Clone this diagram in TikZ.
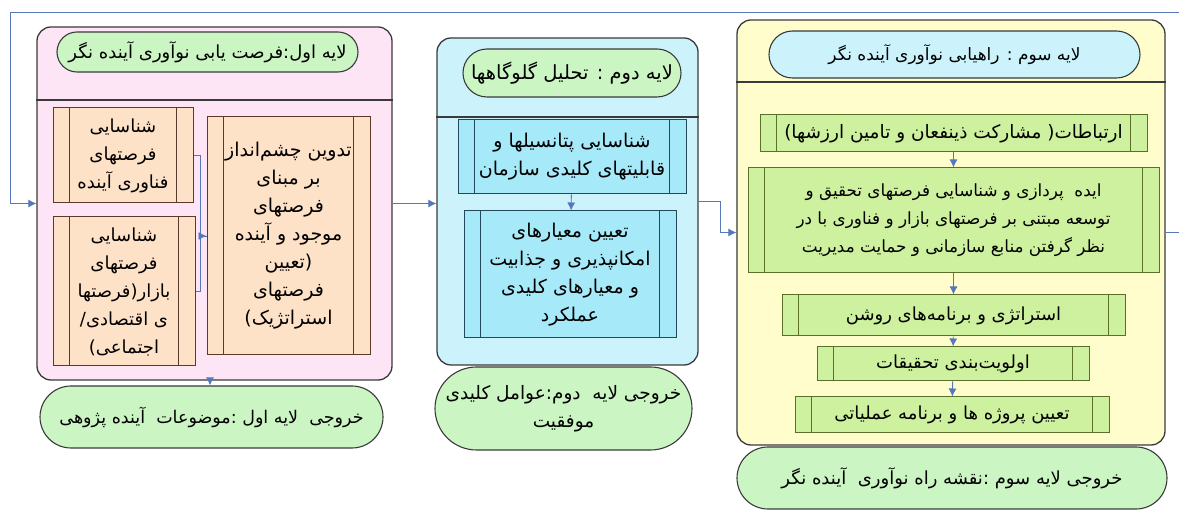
\documentclass[tikz,border=0pt]{standalone}
\usepackage{fontspec}
\newfontfamily\arabicfont[Script=Arabic]{DejaVu Sans}
\TeXXeTstate=1
\usetikzlibrary{shapes.misc,arrows.meta}
\newcommand{\rl}[1]{\beginR #1\endR}
\definecolor{layerpink}{HTML}{FDE5F6}
\definecolor{layerblue}{HTML}{CCF2FC}
\definecolor{layeryellow}{HTML}{FFFDCC}
\definecolor{pillgreen}{HTML}{CCF5C4}
\definecolor{pillcyan}{HTML}{CCF3FC}
\definecolor{peach}{HTML}{FDE2C8}
\definecolor{cyanbox}{HTML}{A6E9F8}
\definecolor{greenbox}{HTML}{CDF19E}
\definecolor{connblue}{HTML}{5578BC}
\definecolor{edgegrey}{HTML}{3A3A3A}
\definecolor{brownedge}{HTML}{5A3A2A}
\definecolor{tealedge}{HTML}{24485A}
\definecolor{oliveedge}{HTML}{5A7028}
\tikzset{
  fsz/.style={font=\arabicfont\fontsize{#1}{28}\selectfont},
  layerbox/.style={draw=edgegrey, line width=1.3pt, rounded corners=14pt, inner sep=0pt},
  divider/.style={draw=edgegrey, line width=1.2pt},
  pill/.style={rounded rectangle, draw=edgegrey, line width=1.1pt, inner sep=0pt, align=center},
  procbox/.style={rectangle, line width=1pt, inner sep=0pt, align=center,
     path picture={
       \draw[line width=1pt] ([xshift=16.5pt]path picture bounding box.north west) -- ([xshift=16.5pt]path picture bounding box.south west);
       \draw[line width=1pt] ([xshift=-16.5pt]path picture bounding box.north east) -- ([xshift=-16.5pt]path picture bounding box.south east);
     }},
  peachbox/.style={procbox, draw=brownedge, fill=peach},
  cybox/.style={procbox, draw=tealedge, fill=cyanbox},
  grbox/.style={procbox, draw=oliveedge, fill=greenbox},
  conn/.style={draw=connblue, line width=0.9pt},
  arr/.style={conn, -{Latex[length=8pt,width=8pt]}},
}
\begin{document}
\begin{tikzpicture}[x=1pt,y=-1pt]
\useasboundingbox[fill=white] (0,0) rectangle (1179,510);

% ---------- Layer 1 ----------
\node[layerbox, fill=layerpink, minimum width=355, minimum height=353] (L1) at (214.5,203.5) {};
\draw[divider] (L1.west |- 0,100) -- (L1.east |- 0,100);
\node[pill, fill=pillgreen, fsz=18, minimum width=301, minimum height=40] (T1) at (207.5,52) {\rl{لایه اول:فرصت یابی نوآوری آینده نگر}};
\node[peachbox, fsz=18, minimum width=140, minimum height=95] (A) at (123,155.5) {\rl{شناسایی}\\\rl{فرصتهای}\\\rl{فناوری آینده}};
\node[peachbox, fsz=18, minimum width=142, minimum height=149] (B) at (124,291.5) {\rl{شناسایی}\\\rl{فرصتهای}\\\rl{بازار(فرصتها}\\\rl{ی اقتصادی/}\\\rl{اجتماعی)}};
\node[peachbox, fsz=19, minimum width=163, minimum height=238] (C) at (288.5,236) {\rl{تدوین چشم‌انداز}\\\rl{بر مبنای}\\\rl{فرصتهای}\\\rl{موجود و آینده}\\\rl{(تعیین}\\\rl{فرصتهای}\\\rl{استراتژیک)}};
\node[pill, fill=pillgreen, fsz=17.5, minimum width=343, minimum height=62] (O1) at (211.5,417) {\rl{خروجی\ \ لایه اول :موضوعات\ \ آینده پژوهی}};

% ---------- Layer 2 ----------
\node[layerbox, fill=layerblue, minimum width=261, minimum height=327] (L2) at (567.5,201.5) {};
\draw[divider] (L2.west |- 0,117) -- (L2.east |- 0,117);
\node[pill, fill=pillgreen, fsz=19.5, minimum width=218, minimum height=48] (T2) at (572,73) {\rl{لایه دوم : تحلیل گلوگاهها}};
\node[cybox, fsz=19, minimum width=228, minimum height=74] (D) at (572,157) {\rl{شناسایی پتانسیلها و}\\\rl{قابلیتهای کلیدی سازمان}};
\node[cybox, fsz=19, minimum width=212, minimum height=127] (E) at (570,274.5) {\rl{تعیین معیارهای}\\\rl{امکانپذیری و جذابیت}\\\rl{و معیارهای کلیدی}\\\rl{عملکرد}};
\node[pill, fill=pillgreen, fsz=18.5, minimum width=257, minimum height=83] (O2) at (563.5,408.5) {\rl{خروجی لایه\ \ دوم:عوامل کلیدی}\\\rl{موفقیت}};

% ---------- Layer 3 ----------
\node[layerbox, fill=layeryellow, minimum width=428, minimum height=425] (L3) at (951,232.5) {};
\draw[divider] (L3.west |- 0,82) -- (L3.east |- 0,82);
\node[pill, fill=pillcyan, fsz=17, minimum width=371, minimum height=47] (T3) at (954.5,54.5) {\rl{لایه سوم : راهیابی نوآوری آینده نگر}};
\node[grbox, fsz=18.5, minimum width=387, minimum height=37] (F) at (953.5,133.5) {\rl{ارتباطات( مشارکت ذینفعان و تامین ارزشها)}};
\node[grbox, fsz=16.8, minimum width=411, minimum height=105] (G) at (953.5,220.5) {\rl{ایده\ \ پردازی و شناسایی فرصتهای تحقیق و}\\\rl{توسعه مبتنی بر فرصتهای بازار و فناوری با در}\\\rl{نظر گرفتن منابع سازمانی و حمایت مدیریت}};
\node[grbox, fsz=18, minimum width=343, minimum height=41] (H) at (953.5,315.5) {\rl{استراتژی و برنامه‌های روشن}};
\node[grbox, fsz=18, minimum width=272, minimum height=34] (I) at (953,364) {\rl{اولویت‌بندی تحقیقات}};
\node[grbox, fsz=18, minimum width=314, minimum height=36] (J) at (952,415) {\rl{تعیین پروژه ها و برنامه عملیاتی}};
\node[pill, fill=pillgreen, fsz=18, minimum width=430, minimum height=62] (O3) at (952,478) {\rl{خروجی لایه سوم :نقشه راه نوآوری\ \ آینده نگر}};

% ---------- Connectors ----------
\coordinate (c1) at (1186,12);
\coordinate (c2) at (10,12);
\draw[arr] (L3.east) -| (c1) -- (c2) |- (L1.west);
\draw[arr] (L1.east) -- (L2.west |- L1.east);
\draw[arr] (L2.east) -- ++(22,0) |- (L3.west);
\draw[arr] (A.east) -- ++(7,0) |- (C.west);
\draw[conn] (B.east) -- ++(5,0) |- (C.west);
\draw[arr] (L1.south -| 210,0) -- (O1.north -| 210,0);
\draw[arr] (D) -- (E);
\draw[arr] (F) -- (G);
\draw[arr] (G) -- (H);
\draw[arr] (H) -- (I);
\draw[arr] (I) -- (J);
\end{tikzpicture}
\end{document}
